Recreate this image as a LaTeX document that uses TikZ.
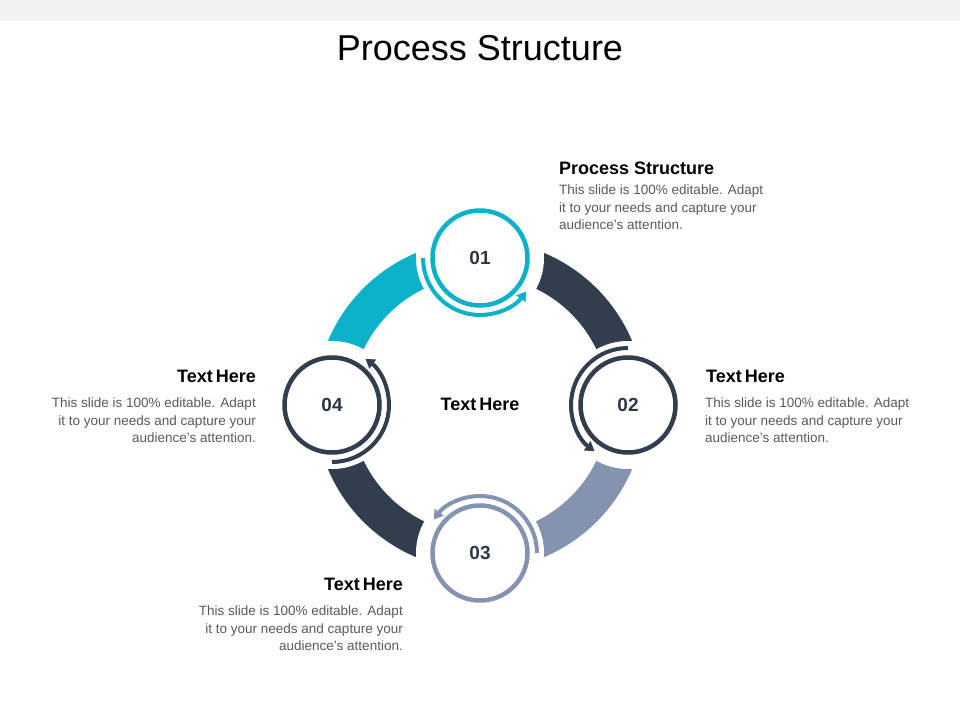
\documentclass[tikz,border=0pt]{standalone}
\usepackage{fontspec}
\setmainfont{Liberation Sans}
\usetikzlibrary{arrows.meta}
\definecolor{teal}{HTML}{0BB1C9}
\definecolor{navy}{HTML}{323D4E}
\definecolor{slate}{HTML}{8493B0}
\definecolor{body}{HTML}{595959}
\begin{document}
\begin{tikzpicture}[x=1pt,y=-1pt,
  band/.style={line width=36pt},
  halo/.style={fill=white,draw=none},
  ring/.style={draw=#1,line width=4.5pt,fill=white},
  loop/.style={draw=#1,line width=4pt,-{Triangle[length=9pt,width=11pt]}},
  num/.style={font=\fontsize{19}{22}\selectfont\bfseries,text=navy!90!black},
  head/.style={font=\fontsize{18}{21}\selectfont\bfseries,inner sep=0pt},
  txt/.style={font=\fontsize{13.5}{17.5}\selectfont,text=body,inner sep=0pt}]
\useasboundingbox (0,0) rectangle (960,720);
\fill[white] (0,0) rectangle (960,720);
\fill[black!5] (0,0) rectangle (960,21);
\node[font=\fontsize{36}{40}\selectfont] (title) at (480,48) {Process Structure};
\coordinate (c) at (480,405);
% bands (y axis flipped: angles measured clockwise on screen)
\draw[band,navy] (c) ++(-90:147) arc[start angle=-90,end angle=0,radius=147];
\draw[band,slate] (c) ++(0:147) arc[start angle=0,end angle=90,radius=147];
\draw[band,navy] (c) ++(90:147) arc[start angle=90,end angle=180,radius=147];
\draw[band,teal] (c) ++(180:147) arc[start angle=180,end angle=270,radius=147];
% halos
\foreach \p in {(480,258),(628,405),(480,553),(332,405)} \fill[white] \p circle (64);
% loops
\coordinate (p1) at (480,258);
\coordinate (p2) at (628,405);
\coordinate (p3) at (480,553);
\coordinate (p4) at (332,405);
\draw[loop=teal] (p1) ++(180:57) arc[start angle=180,end angle=36,radius=57];
\draw[loop=navy] (p2) ++(270:57) arc[start angle=270,end angle=126,radius=57];
\draw[loop=slate] (p3) ++(0:57) arc[start angle=0,end angle=-144,radius=57];
\draw[loop=navy] (p4) ++(90:57) arc[start angle=90,end angle=-54,radius=57];
% circles
\node[circle,minimum size=95pt,ring=teal,num] (n1) at (p1) {01};
\node[circle,minimum size=95pt,ring=navy,num] (n2) at (p2) {02};
\node[circle,minimum size=95pt,ring=slate,num] (n3) at (p3) {03};
\node[circle,minimum size=95pt,ring=navy,num] (n4) at (p4) {04};
\node[head] (center) at (480,404) {Text\,Here};
% texts
\node[head,anchor=west] (h1) at (559,168) {Process Structure};
\node[txt,anchor=north west,align=left] (t1) at (559,185) {This slide is 100\% editable. Adapt\\it to your needs and capture your\\audience's attention.};
\node[head,anchor=west] (h2) at (706,376) {Text\,Here};
\node[txt,anchor=north west,align=left] (t2) at (705,398) {This slide is 100\% editable. Adapt\\it to your needs and capture your\\audience's attention.};
\node[head,anchor=east] (h4) at (256,376) {Text\,Here};
\node[txt,anchor=north east,align=right] (t4) at (256,398) {This slide is 100\% editable. Adapt\\it to your needs and capture your\\audience's attention.};
\node[head,anchor=east] (h3) at (403,584) {Text\,Here};
\node[txt,anchor=north east,align=right] (t3) at (403,606) {This slide is 100\% editable. Adapt\\it to your needs and capture your\\audience's attention.};
\end{tikzpicture}
\end{document}
